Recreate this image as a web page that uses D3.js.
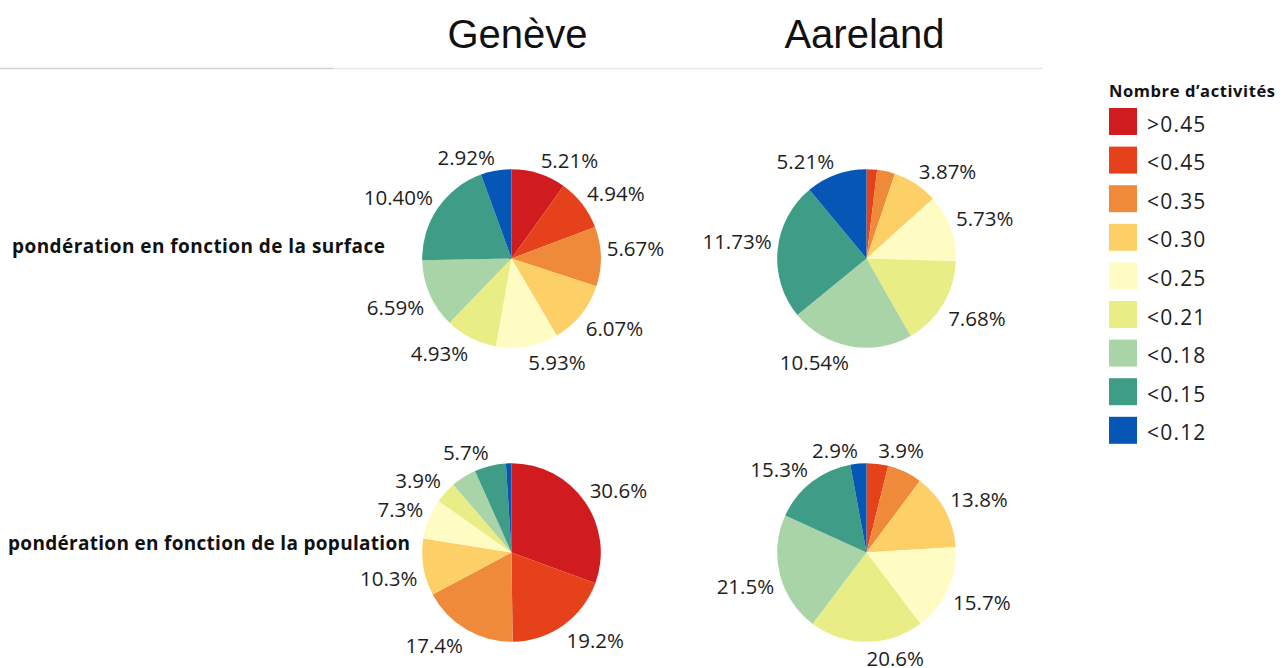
<!DOCTYPE html>
<html>
<head>
<meta charset="utf-8">
<script src="https://cdn.jsdelivr.net/npm/d3@7"></script>
<style>
  html, body { margin: 0; padding: 0; background: #ffffff; }
  svg { display: block; }
</style>
</head>
<body>
<svg id="chart" width="1288" height="668"></svg>
<script>
// Activity classes (legend order, also slice order clockwise from 12 o'clock)
const categories = [">0.45", "<0.45", "<0.35", "<0.30", "<0.25", "<0.21", "<0.18", "<0.15", "<0.12"];
const classColors = ["#d01c1f", "#e5421b", "#ee8a3a", "#fdd067", "#fefbc3", "#e8ed85", "#a9d4a7", "#3f9c87", "#0656b6"];

const regions = ["Genève", "Aareland"];
const weightings = ["pondération en fonction de la surface", "pondération en fonction de la population"];

// Shares per class (%)
const genevaSurface      = [5.21, 4.94, 5.67, 6.07, 5.93, 4.93, 6.59, 10.40, 2.92];
const aarelandSurface    = [0, 0.90, 1.53, 3.87, 5.73, 7.68, 10.54, 11.73, 5.21];
const genevaPopulation   = [30.6, 19.2, 17.4, 10.3, 7.3, 3.9, 4.6, 5.7, 1.0];
const aarelandPopulation = [0, 3.9, 6.3, 13.8, 15.7, 20.6, 21.5, 15.3, 2.9];

// Which slices carry a value label
const genevaSurfaceLabels      = [true, true, true, true, true, true, true, true, true];
const aarelandSurfaceLabels    = [false, false, false, true, true, true, true, true, true];
const genevaPopulationLabels   = [true, true, true, true, true, true, false, true, false];
const aarelandPopulationLabels = [false, true, false, true, true, true, true, true, true];

const panels = [
  { region: "Genève",   row: 0, values: genevaSurface,      show: genevaSurfaceLabels,      digits: 2 },
  { region: "Aareland", row: 0, values: aarelandSurface,    show: aarelandSurfaceLabels,    digits: 2 },
  { region: "Genève",   row: 1, values: genevaPopulation,   show: genevaPopulationLabels,   digits: 1 },
  { region: "Aareland", row: 1, values: aarelandPopulation, show: aarelandPopulationLabels, digits: 1 }
];

const svg = d3.select("#chart");
const textColor = "#1e1e1e";
const labelFont = "'Open Sans', 'Noto Sans', sans-serif";

const colorScale = d3.scaleOrdinal().domain(categories).range(classColors);
const xCol = d3.scalePoint().domain(regions).range([511.5, 866.5]);
const xHeader = d3.scalePoint().domain(regions).range([517.5, 864.5]);
const yRow = d3.scalePoint().domain(d3.range(weightings.length)).range([258.5, 552.5]);

const radius = 89.3;
const labelGap = 6;

// Separator under the column headers
svg.append("line")
  .attr("x1", 0).attr("x2", 333).attr("y1", 68.5).attr("y2", 68.5)
  .attr("stroke", "#cfcfd9").attr("stroke-width", 1.5);
svg.append("line")
  .attr("x1", 333).attr("x2", 1042).attr("y1", 68.5).attr("y2", 68.5)
  .attr("stroke", "#e6e6e6").attr("stroke-width", 1.5);

// Column headers
svg.selectAll("text.header")
  .data(regions)
  .join("text")
  .attr("class", "header")
  .attr("x", d => xHeader(d))
  .attr("y", 48)
  .attr("text-anchor", "middle")
  .attr("font-family", "'Liberation Sans', Arial, sans-serif")
  .attr("font-size", 40)
  .attr("fill", "#111")
  .text(d => d);

// Row titles
const rowX = [12, 8];
const rowWidth = [373, 402];
const rowBaselineShift = [-6, -3];
svg.selectAll("text.rowtitle")
  .data(weightings)
  .join("text")
  .attr("class", "rowtitle")
  .attr("x", (d, i) => rowX[i])
  .attr("y", (d, i) => yRow(i) + rowBaselineShift[i])
  .attr("font-family", labelFont)
  .attr("font-weight", 700)
  .attr("font-size", 19)
  .attr("textLength", (d, i) => rowWidth[i])
  .attr("lengthAdjust", "spacing")
  .attr("fill", "#111")
  .text(d => d);

const pie = d3.pie().sort(null).value(d => d.value);
const arc = d3.arc().innerRadius(0).outerRadius(radius);

panels.forEach(panel => {
  const g = svg.append("g")
    .attr("transform", `translate(${xCol(panel.region)},${yRow(panel.row)})`);

  const slices = pie(categories.map((c, i) => ({
    cat: c, value: panel.values[i], show: panel.show[i]
  })));

  g.selectAll("path")
    .data(slices.filter(s => s.data.value > 0))
    .join("path")
    .attr("d", arc)
    .attr("fill", s => colorScale(s.data.cat));

  // Labels sit just outside the rim; the box corner nearest the pie touches the label circle
  g.selectAll("text")
    .data(slices.filter(s => s.data.value > 0 && s.data.show))
    .join("text")
    .each(function(s) {
      const a = (s.startAngle + s.endAngle) / 2;
      const rl = radius + labelGap;
      const px = rl * Math.sin(a);
      const py = -rl * Math.cos(a);
      const upper = Math.cos(a) >= 0;
      d3.select(this)
        .attr("x", px)
        .attr("y", upper ? py : py + 18)
        .attr("text-anchor", Math.sin(a) >= 0 ? "start" : "end");
    })
    .attr("font-family", labelFont)
    .attr("font-size", 20.5)
    .attr("fill", textColor)
    .text(s => s.data.value.toFixed(panel.digits) + "%");
});

// Legend
const legend = svg.append("g").attr("transform", "translate(1109,0)");
legend.append("text")
  .attr("x", 0).attr("y", 96.5)
  .attr("font-family", labelFont)
  .attr("font-weight", 700)
  .attr("font-size", 16.5)
  .attr("textLength", 166)
  .attr("lengthAdjust", "spacing")
  .attr("fill", "#111")
  .text("Nombre d’activités");

const yLegend = d3.scaleBand().domain(categories).range([108, 108 + 38.6 * categories.length]).paddingInner(0);
const item = legend.selectAll("g.item")
  .data(categories)
  .join("g")
  .attr("class", "item")
  .attr("transform", d => `translate(0,${yLegend(d)})`);
item.append("rect")
  .attr("width", 28).attr("height", 27)
  .attr("fill", d => colorScale(d));
item.append("text")
  .attr("x", 38).attr("y", 23.5)
  .attr("font-family", labelFont)
  .attr("font-size", 21)
  .attr("letter-spacing", 1.2)
  .attr("fill", textColor)
  .text(d => d);
</script>
</body>
</html>
